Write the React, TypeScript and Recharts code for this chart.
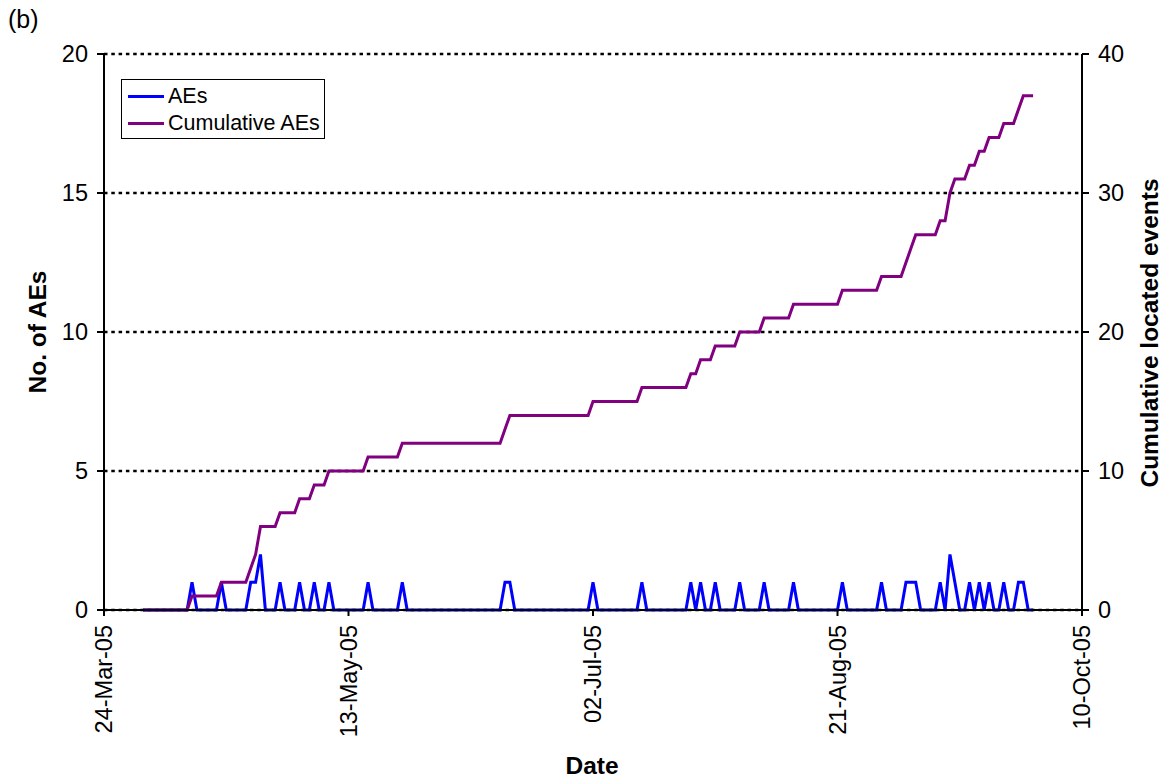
import React from 'react';
import { LineChart, Line, XAxis, YAxis, CartesianGrid } from 'recharts';

// x axis runs from 24-Mar-05 to 10-Oct-05, in days
const AXIS_START = '2005-03-24';
const SERIES_START = '2005-04-01';
const SERIES_END = '2005-09-30';

const xTickDates = ['2005-03-24', '2005-05-13', '2005-07-02', '2005-08-21', '2005-10-10'];
const leftTicks = [0, 5, 10, 15, 20];
const rightTicks = [0, 10, 20, 30, 40];

// days on which AEs were recorded, and how many
const aeDates = [
  '2005-04-11', '2005-04-17', '2005-04-23', '2005-04-24', '2005-04-25', '2005-04-29',
  '2005-05-03', '2005-05-06', '2005-05-09', '2005-05-17', '2005-05-24', '2005-06-14',
  '2005-06-15', '2005-07-02', '2005-07-12', '2005-07-22', '2005-07-24', '2005-07-27',
  '2005-08-01', '2005-08-06', '2005-08-12', '2005-08-22', '2005-08-30', '2005-09-04',
  '2005-09-05', '2005-09-06', '2005-09-11', '2005-09-13', '2005-09-14', '2005-09-17',
  '2005-09-19', '2005-09-21', '2005-09-24', '2005-09-27', '2005-09-28',
];
const aeCounts = [
  1, 1, 1, 1, 2, 1,
  1, 1, 1, 1, 1, 1,
  1, 1, 1, 1, 1, 1,
  1, 1, 1, 1, 1, 1,
  1, 1, 1, 2, 1, 1,
  1, 1, 1, 1, 1,
];

const MONTHS = ['Jan', 'Feb', 'Mar', 'Apr', 'May', 'Jun', 'Jul', 'Aug', 'Sep', 'Oct', 'Nov', 'Dec'];
const DAY_MS = 86400000;

const toUtc = (s: string) => {
  const [y, m, d] = s.split('-').map(Number);
  return Date.UTC(y, m - 1, d);
};
const origin = toUtc(AXIS_START);
const toDay = (s: string) => Math.round((toUtc(s) - origin) / DAY_MS);

const formatDay = (day: number) => {
  const dt = new Date(origin + day * DAY_MS);
  const dd = String(dt.getUTCDate()).padStart(2, '0');
  const yy = String(dt.getUTCFullYear()).slice(2);
  return `${dd}-${MONTHS[dt.getUTCMonth()]}-${yy}`;
};

// one row per day, with the running total of events
const buildRows = () => {
  const counts = new Map<number, number>();
  aeDates.forEach((d, i) => counts.set(toDay(d), aeCounts[i]));
  const rows: { day: number; ae: number; cum: number }[] = [];
  let total = 0;
  for (let day = toDay(SERIES_START); day <= toDay(SERIES_END); day++) {
    const ae = counts.get(day) ?? 0;
    total += ae;
    rows.push({ day, ae, cum: total });
  }
  return rows;
};

const data = buildRows();
const xTicks = xTickDates.map(toDay);

const FONT = '"Liberation Sans", Arial, sans-serif';

const DateTick = (props: any) => {
  const { x, y, payload } = props;
  return (
    <text
      x={x}
      y={y}
      transform={`rotate(-90, ${x}, ${y})`}
      textAnchor="end"
      dy="0.35em"
      fontSize={23.5}
      fontFamily={FONT}
      fill="#000"
    >
      {formatDay(payload.value)}
    </text>
  );
};

const tickStyle = { fill: '#000', fontSize: 23.5, fontFamily: FONT };
const axisStroke = { stroke: '#000', strokeWidth: 2 };

export default function App() {
  return (
    <div style={{ position: 'absolute', left: 0, top: 0, width: 1172, height: 780, background: '#fff', fontFamily: FONT }}>
      <LineChart
        width={1172}
        height={780}
        data={data}
        margin={{ top: 54, right: 30, bottom: 50, left: 44 }}
      >
        <CartesianGrid
          yAxisId="left"
          vertical={false}
          stroke="#000"
          strokeWidth={2.5}
          strokeDasharray="3.5 3.8"
        />
        <XAxis
          type="number"
          dataKey="day"
          domain={[0, 200]}
          ticks={xTicks}
          interval={0}
          height={120}
          tickSize={6}
          tickMargin={9}
          axisLine={axisStroke}
          tickLine={axisStroke}
          tick={<DateTick />}
        />
        <YAxis
          yAxisId="left"
          domain={[0, 20]}
          ticks={leftTicks}
          interval={0}
          width={60}
          tickSize={7}
          tickMargin={9}
          axisLine={axisStroke}
          tickLine={axisStroke}
          tick={tickStyle}
        />
        <YAxis
          yAxisId="right"
          orientation="right"
          domain={[0, 40]}
          ticks={rightTicks}
          interval={0}
          width={60}
          tickSize={7}
          tickMargin={9}
          axisLine={axisStroke}
          tickLine={axisStroke}
          tick={tickStyle}
        />
        <Line
          yAxisId="left"
          type="linear"
          dataKey="ae"
          stroke="#0000ff"
          strokeWidth={3}
          dot={false}
          activeDot={false}
          isAnimationActive={false}
        />
        <Line
          yAxisId="right"
          type="linear"
          dataKey="cum"
          stroke="#800080"
          strokeWidth={3}
          dot={false}
          activeDot={false}
          isAnimationActive={false}
        />
      </LineChart>

      <div style={{ position: 'absolute', left: 8, top: 5, fontSize: 25 }}>(b)</div>

      <div
        style={{
          position: 'absolute', left: 38, top: 332, fontSize: 24.5, fontWeight: 'bold',
          whiteSpace: 'nowrap', transform: 'translate(-50%, -50%) rotate(-90deg)',
        }}
      >
        No. of AEs
      </div>
      <div
        style={{
          position: 'absolute', left: 1150, top: 333, fontSize: 24.5, fontWeight: 'bold',
          whiteSpace: 'nowrap', transform: 'translate(-50%, -50%) rotate(-90deg)',
        }}
      >
        Cumulative located events
      </div>
      <div
        style={{
          position: 'absolute', left: 592, top: 766, fontSize: 24.5, fontWeight: 'bold',
          transform: 'translate(-50%, -50%)',
        }}
      >
        Date
      </div>

      <div
        style={{
          position: 'absolute', left: 121, top: 79, width: 202, height: 58,
          border: '1px solid #000', background: '#fff', fontSize: 21.5,
        }}
      >
        {[
          { label: 'AEs', color: '#0000ff' },
          { label: 'Cumulative AEs', color: '#800080' },
        ].map((item, i) => (
          <div key={item.label} style={{ position: 'absolute', left: 6, top: 4 + i * 27, height: 24, display: 'flex', alignItems: 'center' }}>
            <span style={{ display: 'inline-block', width: 36, height: 3, background: item.color, marginRight: 4 }} />
            <span>{item.label}</span>
          </div>
        ))}
      </div>
    </div>
  );
}
